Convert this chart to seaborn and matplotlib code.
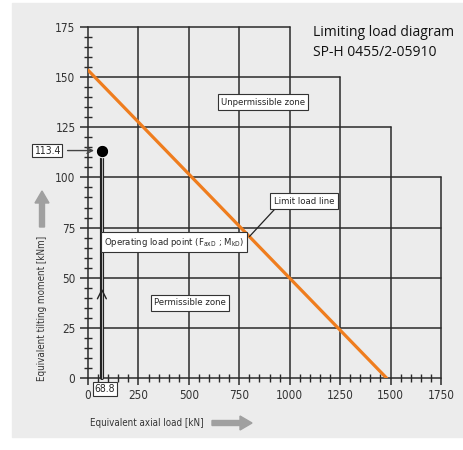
import numpy as np
import pandas as pd
import matplotlib
matplotlib.use("Agg")
import matplotlib.pyplot as plt
import seaborn as sns
from matplotlib.patches import Rectangle, FancyArrow
from matplotlib.ticker import MultipleLocator

# data
limit_load = [0, 1480]          # axial load kN
limit_moment = [153.5, 0]       # tilting moment kNm
op_axial = 68.8
op_moment = 113.4
x_ticks = [0, 250, 500, 750, 1000, 1250, 1500, 1750]
y_ticks = [0, 25, 50, 75, 100, 125, 150, 175]
# how far each horizontal grid line runs / how high each vertical runs
h_extent = [1750, 1750, 1750, 1750, 1750, 1500, 1250, 1000]
v_extent = [175, 175, 175, 175, 175, 150, 125, 100]

sns.set_style("white")
plt.rcParams['font.family'] = ['DejaVu Sans']
plt.rcParams['font.stretch'] = 'condensed'
plt.rcParams['mathtext.default'] = 'regular'

bg = '#ececec'
grid_c = '#2a2a2a'
txt_c = '#333333'

fig = plt.figure(figsize=(4.64, 4.5), dpi=100)
fig.patch.set_facecolor('white')
fig.patches.append(Rectangle((12/464, 13/450), 1 - 12/464, (437-3)/450,
                             transform=fig.transFigure, color=bg, zorder=-5))
ax = fig.add_axes([88/464, 72/450, 353/464, 351/450])
ax.set_facecolor('none')
ax.set_xlim(0, 1750)
ax.set_ylim(0, 175)
for s in ax.spines.values():
    s.set_visible(False)

# staircase grid
for y, xe in zip(y_ticks, h_extent):
    ax.plot([0, xe], [y, y], color=grid_c, lw=1.1, zorder=1, clip_on=False)
for x, ye in zip(x_ticks, v_extent):
    ax.plot([x, x], [0, ye], color=grid_c, lw=1.1, zorder=1, clip_on=False)

ax.xaxis.set_major_locator(MultipleLocator(250))
ax.xaxis.set_minor_locator(MultipleLocator(50))
ax.yaxis.set_major_locator(MultipleLocator(25))
ax.yaxis.set_minor_locator(MultipleLocator(5))
ax.tick_params(axis='x', which='major', direction='out', length=5, width=1.1,
               color=grid_c, labelsize=8.5, labelcolor=txt_c, pad=3)
ax.tick_params(axis='x', which='minor', direction='inout', length=6, width=1,
               color=grid_c)
ax.tick_params(axis='y', which='major', direction='out', length=6, width=1.1,
               color=grid_c, labelsize=8.5, labelcolor=txt_c, pad=3)
ax.tick_params(axis='y', which='minor', direction='inout', length=6, width=1,
               color=grid_c)
ax.tick_params(bottom=True, left=True, which='both')

# limit load line
df = pd.DataFrame({'load': limit_load, 'moment': limit_moment})
sns.lineplot(data=df, x='load', y='moment', color='#ef7d1e', lw=2.3, ax=ax,
             zorder=3)

# operating point with drop line
ax.plot([op_axial, op_axial], [0, op_moment], color='#222222', lw=3,
        zorder=4, clip_on=False)
ax.plot([op_axial, op_axial], [0, op_moment - 3], color='#bbbbbb', lw=0.7,
        zorder=4, clip_on=False)
ax.plot([op_axial - 22, op_axial, op_axial + 22], [39.5, 43.9, 39.5],
        color='#222222', lw=1, zorder=4)
sns.scatterplot(x=[op_axial], y=[op_moment], s=80, color='black', ax=ax,
                zorder=6, clip_on=False)
ax.set_xlabel('')
ax.set_ylabel('')

box = dict(boxstyle='square,pad=0.35', fc='white', ec='#333333', lw=0.8)
fs = 6.8
ax.text(867, 137.6, 'Unpermissible zone', ha='center', va='center',
        fontsize=fs, bbox=box, zorder=7)
ax.text(1071, 88.2, 'Limit load line', ha='center', va='center',
        fontsize=fs, bbox=box, zorder=7)
ax.plot([927, 800], [84.3, 70.5], color='#222222', lw=0.9, zorder=5)
ax.text(426, 67.8, 'Operating load point (F$_{axD}$ ; M$_{kD}$)',
        ha='center', va='center', fontsize=fs, bbox=box, zorder=7)
ax.text(506, 37.4, 'Permissible zone', ha='center', va='center',
        fontsize=fs, bbox=box, zorder=7)

small_box = dict(boxstyle='square,pad=0.15', fc='white', ec='#333333', lw=0.8)
ax.annotate('', xy=(op_axial - 25, op_moment), xytext=(-115, op_moment),
            arrowprops=dict(arrowstyle='->', color='#444444', lw=1),
            annotation_clip=False, zorder=5)
ax.text(-203, op_moment, f'{op_moment}', ha='center', va='center',
        fontsize=7.5, bbox=small_box, zorder=7, clip_on=False)
ax.text(84, -5.5, f'{op_axial}', ha='center', va='center', fontsize=7.5,
        bbox=small_box, zorder=7, clip_on=False)

# axis labels with grey arrows
fig.text(42/464, 1 - 308/450, 'Equivalent tilting moment [kNm]',
         rotation=90, ha='center', va='center', fontsize=7, color=txt_c)
fig.text(147/464, 1 - 423/450, 'Equivalent axial load [kN]',
         ha='center', va='center', fontsize=7, color=txt_c)
arr_c = '#a0a0a0'
fig.patches.append(FancyArrow(42/464, 1 - 227/450, 0, 36/450, width=5/464,
                              head_width=14/464, head_length=12/450,
                              length_includes_head=True, color=arr_c,
                              transform=fig.transFigure))
fig.patches.append(FancyArrow(212/464, 1 - 423/450, 40/464, 0, width=5/450,
                              head_width=14/450, head_length=12/464,
                              length_includes_head=True, color=arr_c,
                              transform=fig.transFigure))

fig.text(313/464, 1 - 33/450, 'Limiting load diagram', ha='left',
         va='center', fontsize=10, color='#111111', family='Open Sans',
         stretch='normal')
fig.text(313/464, 1 - 52/450, 'SP-H 0455/2-05910', ha='left',
         va='center', fontsize=10, color='#111111', family='Open Sans',
         stretch='normal')

fig.savefig('out.png', dpi=100)
